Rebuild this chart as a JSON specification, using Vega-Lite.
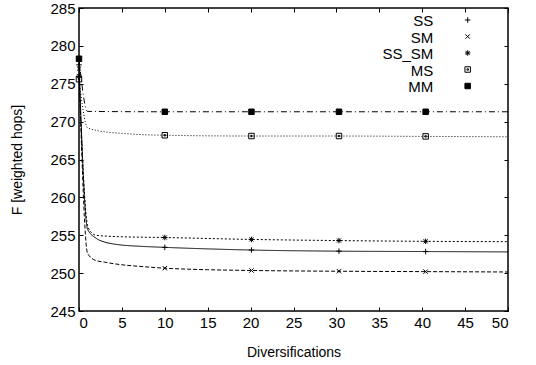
{
  "$schema": "https://vega.github.io/schema/vega-lite/v6.json",
  "width": 429,
  "height": 303,
  "autosize": {"type": "none"},
  "padding": {"left": 79, "top": 8, "right": 28, "bottom": 54},
  "background": "white",
  "datasets": {
    "lines": [
      {"curve": "SS", "x": 0, "F": 277.5}, {"curve": "SS", "x": 1, "F": 255.8}, {"curve": "SS", "x": 2, "F": 254.6}, {"curve": "SS", "x": 3, "F": 254.1}, {"curve": "SS", "x": 4, "F": 253.85}, {"curve": "SS", "x": 5, "F": 253.7}, {"curve": "SS", "x": 7, "F": 253.55}, {"curve": "SS", "x": 10, "F": 253.4}, {"curve": "SS", "x": 15, "F": 253.2}, {"curve": "SS", "x": 20, "F": 253.05}, {"curve": "SS", "x": 30, "F": 252.9}, {"curve": "SS", "x": 40, "F": 252.85}, {"curve": "SS", "x": 50, "F": 252.8},
      {"curve": "SM", "x": 0, "F": 277.0}, {"curve": "SM", "x": 1, "F": 252.6}, {"curve": "SM", "x": 2, "F": 251.65}, {"curve": "SM", "x": 3, "F": 251.45}, {"curve": "SM", "x": 4, "F": 251.25}, {"curve": "SM", "x": 5, "F": 251.1}, {"curve": "SM", "x": 7, "F": 250.9}, {"curve": "SM", "x": 10, "F": 250.65}, {"curve": "SM", "x": 15, "F": 250.45}, {"curve": "SM", "x": 20, "F": 250.35}, {"curve": "SM", "x": 30, "F": 250.25}, {"curve": "SM", "x": 40, "F": 250.2}, {"curve": "SM", "x": 50, "F": 250.15},
      {"curve": "SS_SM", "x": 0, "F": 276.0}, {"curve": "SS_SM", "x": 1, "F": 256.3}, {"curve": "SS_SM", "x": 1.5, "F": 255.3}, {"curve": "SS_SM", "x": 2, "F": 255.0}, {"curve": "SS_SM", "x": 3, "F": 254.9}, {"curve": "SS_SM", "x": 5, "F": 254.8}, {"curve": "SS_SM", "x": 10, "F": 254.7}, {"curve": "SS_SM", "x": 20, "F": 254.45}, {"curve": "SS_SM", "x": 30, "F": 254.3}, {"curve": "SS_SM", "x": 40, "F": 254.2}, {"curve": "SS_SM", "x": 50, "F": 254.15},
      {"curve": "MS", "x": 0, "F": 275.6}, {"curve": "MS", "x": 1, "F": 269.2}, {"curve": "MS", "x": 2, "F": 268.85}, {"curve": "MS", "x": 3, "F": 268.65}, {"curve": "MS", "x": 5, "F": 268.45}, {"curve": "MS", "x": 7, "F": 268.3}, {"curve": "MS", "x": 10, "F": 268.2}, {"curve": "MS", "x": 20, "F": 268.1}, {"curve": "MS", "x": 30, "F": 268.1}, {"curve": "MS", "x": 40, "F": 268.05}, {"curve": "MS", "x": 50, "F": 268.0},
      {"curve": "MM", "x": 0, "F": 278.3}, {"curve": "MM", "x": 1, "F": 271.35}, {"curve": "MM", "x": 10, "F": 271.3}, {"curve": "MM", "x": 20, "F": 271.3}, {"curve": "MM", "x": 30, "F": 271.3}, {"curve": "MM", "x": 40, "F": 271.3}, {"curve": "MM", "x": 50, "F": 271.3}
    ],
    "points": [
      {"series": "SS", "x": 0, "F": 277.5}, {"series": "SS", "x": 10, "F": 253.4}, {"series": "SS", "x": 20.1, "F": 253.05}, {"series": "SS", "x": 30.3, "F": 252.9}, {"series": "SS", "x": 40.4, "F": 252.85},
      {"series": "SM", "x": 0, "F": 277.0}, {"series": "SM", "x": 10, "F": 250.65}, {"series": "SM", "x": 20.1, "F": 250.35}, {"series": "SM", "x": 30.3, "F": 250.25}, {"series": "SM", "x": 40.4, "F": 250.2},
      {"series": "SS_SM", "x": 0, "F": 276.0}, {"series": "SS_SM", "x": 10, "F": 254.7}, {"series": "SS_SM", "x": 20.1, "F": 254.45}, {"series": "SS_SM", "x": 30.3, "F": 254.3}, {"series": "SS_SM", "x": 40.4, "F": 254.2},
      {"series": "MS", "x": 0, "F": 275.6}, {"series": "MS", "x": 10, "F": 268.2}, {"series": "MS", "x": 20.1, "F": 268.1}, {"series": "MS", "x": 30.3, "F": 268.1}, {"series": "MS", "x": 40.4, "F": 268.05},
      {"series": "MM", "x": 0, "F": 278.3}, {"series": "MM", "x": 10, "F": 271.3}, {"series": "MM", "x": 20.1, "F": 271.3}, {"series": "MM", "x": 30.3, "F": 271.3}, {"series": "MM", "x": 40.4, "F": 271.3}
    ],
    "legend": [
      {"series": "SS"}, {"series": "SM"}, {"series": "SS_SM"}, {"series": "MS"}, {"series": "MM"}
    ]
  },
  "resolve": {"scale": {"y": "independent"}, "axis": {"x": "independent", "y": "independent"}},
  "layer": [
    {
      "resolve": {"axis": {"y": "independent"}},
      "layer": [
        {
          "data": {"name": "lines"},
          "mark": {"type": "line", "stroke": "black", "strokeWidth": 1, "clip": true, "interpolate": "monotone"},
          "encoding": {
            "x": {"field": "x", "type": "quantitative", "scale": {"domain": [0, 50], "nice": false},
              "axis": {"title": "Diversifications", "tickCount": 10, "labelOverlap": false, "titlePadding": 15}},
            "y": {"field": "F", "type": "quantitative", "scale": {"domain": [245, 285], "nice": false, "zero": false},
              "axis": {"title": "F [weighted hops]", "tickCount": 8, "labelOverlap": false, "titlePadding": 25}},
            "detail": {"field": "curve"},
            "strokeDash": {"field": "curve", "type": "nominal", "legend": null,
              "scale": {"domain": ["SS", "SM", "SS_SM", "MS", "MM"], "range": [[1, 0], [4, 2], [2, 2], [1, 2], [6, 3, 1, 3]]}}
          }
        },
        {
          "data": {"name": "points"},
          "mark": {"type": "point", "stroke": "black", "strokeWidth": 1, "size": 30, "opacity": 1},
          "encoding": {
            "x": {"field": "x", "type": "quantitative"},
            "y": {"field": "F", "type": "quantitative",
              "axis": {"orient": "right", "labels": false, "title": null, "tickCount": 8}},
            "shape": {"field": "series", "type": "nominal", "legend": null,
              "scale": {"domain": ["SS", "SM", "SS_SM", "MS", "MM"],
                "range": ["M-1,0H1M0,-1V1", "M-0.8,-0.8L0.8,0.8M-0.8,0.8L0.8,-0.8", "M-1,0H1M0,-1V1M-0.75,-0.75L0.75,0.75M-0.75,0.75L0.75,-0.75", "M-1,-1H1V1H-1ZM-0.25,-0.25H0.25V0.25H-0.25Z", "square"]}},
            "fill": {"field": "series", "type": "nominal", "legend": null,
              "scale": {"domain": ["SS", "SM", "SS_SM", "MS", "MM"], "range": ["transparent", "transparent", "transparent", "transparent", "black"]}}
          }
        }
      ]
    },
    {
      "data": {"name": "legend"},
      "encoding": {
        "y": {"field": "series", "type": "ordinal", "axis": null,
          "scale": {"type": "point", "domain": ["SS", "SM", "SS_SM", "MS", "MM"], "range": [12, 78], "padding": 0}}
      },
      "layer": [
        {
          "mark": {"type": "text", "align": "right", "baseline": "middle", "fontSize": 15, "font": "Liberation Sans", "color": "black", "dy": 1},
          "encoding": {
            "x": {"datum": 41.3, "type": "quantitative", "axis": {"orient": "top", "labels": false, "title": null, "tickCount": 10}},
            "text": {"field": "series"}
          }
        },
        {
          "mark": {"type": "point", "stroke": "black", "strokeWidth": 1, "size": 30, "opacity": 1},
          "encoding": {
            "x": {"datum": 45.3, "type": "quantitative"},
            "shape": {"field": "series", "type": "nominal", "legend": null},
            "fill": {"field": "series", "type": "nominal", "legend": null}
          }
        }
      ]
    }
  ],
  "config": {
    "font": "Liberation Sans",
    "view": {"stroke": "black", "strokeWidth": 1.5},
    "axis": {
      "domain": false,
      "grid": false,
      "tickColor": "black",
      "tickSize": -4,
      "labelColor": "black",
      "labelFontSize": 15,
      "labelFont": "Liberation Sans",
      "labelOverlap": false,
      "titleColor": "black",
      "titleFont": "Liberation Sans",
      "titleFontSize": 14,
      "titleFontWeight": "normal",
      "labelPadding": 8
    }
  }
}
